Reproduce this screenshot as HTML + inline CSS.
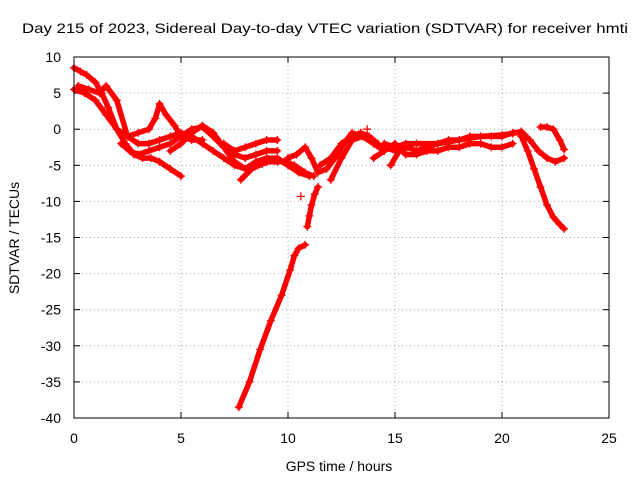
<!DOCTYPE html>
<html><head><meta charset="utf-8"><style>
body{margin:0;background:#fff}
svg{display:block;font-family:"Liberation Sans",sans-serif}
</style></head><body>
<svg id="chart" width="640" height="480" viewBox="0 0 640 480" xmlns="http://www.w3.org/2000/svg">
<rect width="640" height="480" fill="#fff"/>
<text x="325" y="33" font-size="14" text-anchor="middle" textLength="606" lengthAdjust="spacingAndGlyphs">Day 215 of 2023, Sidereal Day-to-day VTEC variation (SDTVAR) for receiver hmti</text>
<text x="339" y="471" font-size="14" text-anchor="middle">GPS time / hours</text>
<text transform="translate(19,238) rotate(-90)" font-size="14" text-anchor="middle">SDTVAR / TECUs</text>
<g id="grid"></g>
<g id="ticks"></g>
<g id="series"></g>
<rect x="74" y="57" width="535" height="361" fill="none" stroke="#000" stroke-width="1"/>
</svg>
<script>
const xTicks=[0,5,10,15,20,25];
const yTicks=[10,5,0,-5,-10,-15,-20,-25,-30,-35,-40];
const trackTimes=[
[7.7,8.2,8.7,9.2,9.7,10.1,10.3,10.5,10.8],
[10.9,11.0,11.1,11.25,11.4],
[0,0.3,0.6,1.0,1.3,1.6,2.0,2.4,2.8,3.2,3.6,4.0,4.5,5.0],
[0,0.5,1.0,1.5,2.0,2.5,3.0,3.5,4.0,4.5,5.0,5.5,6.0,6.5,7.0,7.5,8.0,8.5,9.0,9.5,10.0,10.5,11.0],
[0.2,0.7,1.2,1.5,2.0,2.5,3.0,3.5,3.8,4.0,4.3,4.7,5.0,5.5,6.0],
[2.2,2.6,3.0,3.5,4.0,4.5,5.0,5.5,6.0,6.5,7.0,7.5,8.0,8.5,9.0,9.5],
[4.5,5.0,5.5,6.0,6.5,7.0,7.5,8.0,8.5,9.0,9.5,10.0,10.5],
[7.0,7.5,8.0,8.5,9.0,9.5],
[7.8,8.3,8.8,9.3,9.8,10.3,10.8,11.2],
[10.0,10.4,10.8,11.1,11.4,11.8,12.2,12.6,13.0,13.5,14.0,14.5],
[11.5,12.0,12.5,13.0,13.4,13.8,14.2],
[12.0,12.5,13.0,13.5,14.0,14.5,15.0],
[14.5,15.0,15.5,16.0,17.0,18.0,19.0,20.0,20.5,20.9,21.3,21.7,22.1,22.5,22.9],
[20.9,21.2,21.5,21.8,22.1,22.4,22.7,22.9],
[21.8,22.1,22.4,22.7,22.9],
[14.0,14.5,15.0,15.5,16.0,16.5,17.0,17.5,18.0,18.5,19.0,19.5,20.0,20.5],
[14.8,15.2,15.6,16.0,16.5,17.0,17.5,18.0,18.5,19.0,19.5,20.0,20.5,20.9]
];
const trackValues=[
[-38.5,-35,-30.5,-26.5,-23,-19.5,-17.5,-16.5,-16],
[-13.5,-12,-10.5,-9,-8],
[8.5,8,7.5,6.5,5,3,0,-2,-3.5,-4,-4,-4.5,-5.5,-6.5],
[5.5,5,4,2,0,-1,-2,-2,-1.5,-1,-0.5,-1,-2,-3,-4,-5,-5.5,-5,-4.5,-4.5,-4.5,-6,-6.5],
[6,5.5,5,6,4,-1,-0.5,0,1.5,3.5,2,0.5,-1,-1.5,-1.5],
[-2,-3,-3.5,-3,-2.5,-2,-1,0,0.3,-1,-2.5,-3.5,-4,-3.5,-3,-3],
[-3,-2,-0.5,0.5,-0.5,-2.5,-4.5,-5.5,-4.5,-4,-4,-5,-6],
[-2,-3,-2.5,-2,-1.5,-1.5],
[-7,-5.5,-4.8,-4.3,-4.5,-5,-6,-6.5],
[-4,-3.5,-2.5,-4,-6,-5.5,-4,-2,-0.5,-1,-2,-3],
[-5,-4,-2,-1,-0.5,-1,-2],
[-7,-4,-1.5,-1,-2,-2.5,-3],
[-2,-2.5,-2,-2,-2,-1.5,-1,-0.8,-0.6,-0.3,-1.5,-3,-4,-4.5,-4],
[-1,-3,-5.5,-8,-10.5,-12.2,-13.2,-13.8],
[0.3,0.3,0,-1.5,-2.8],
[-4,-3,-2,-3.5,-3.5,-3,-3,-2.5,-2.5,-2,-2,-2.5,-2.5,-2],
[-5,-3,-2.5,-3,-2.5,-2,-1.5,-1.5,-1,-1,-1,-1,-0.5,-0.5]
];
const isolatedT=[10.6,13.7];
const isolatedV=[-9.3,0];
const NS='http://www.w3.org/2000/svg';
const X0=74,X1=609,Y0=418,Y1=57;
const sx=t=>X0+(t-0)/(25-0)*(X1-X0);
const sy=v=>Y0-(v-(-40))/(10-(-40))*(Y0-Y1);
function mk(tag,attrs,parent){const e=document.createElementNS(NS,tag);for(const k in attrs)e.setAttribute(k,attrs[k]);parent.appendChild(e);return e;}
const grid=document.getElementById('grid'),ticks=document.getElementById('ticks'),series=document.getElementById('series');
xTicks.forEach(t=>{
  const x=sx(t);
  if(t>0&&t<25){const g=mk('line',{x1:x,x2:x,y1:Y0,y2:Y1,stroke:'#a0a0a0','stroke-dasharray':'1,3'},grid);
  
  }
  mk('line',{x1:x,x2:x,y1:Y0,y2:Y0-6,stroke:'#000'},ticks);
  mk('line',{x1:x,x2:x,y1:Y1,y2:Y1+6,stroke:'#000'},ticks);
  const l=mk('text',{x:x,y:443,'font-size':14,'text-anchor':'middle'},ticks);
  l.textContent=t;
  
  
});
yTicks.forEach(v=>{
  const y=sy(v);
  if(v>-40&&v<10){const g=mk('line',{x1:X0,x2:X1,y1:y,y2:y,stroke:'#a0a0a0','stroke-dasharray':'1,3'},grid);
  
  }
  mk('line',{x1:X0,x2:X0+6,y1:y,y2:y,stroke:'#000'},ticks);
  mk('line',{x1:X1,x2:X1-6,y1:y,y2:y,stroke:'#000'},ticks);
  const l=mk('text',{x:61,y:y+5,'font-size':14,'text-anchor':'end'},ticks);
  l.textContent=v;
  
  
});
function plus(t,v){const x=sx(t),y=sy(v);
  mk('path',{d:`M${x-4},${y}h8M${x},${y-4}v8`,stroke:'#f00','stroke-width':1.3},series);}
trackTimes.forEach((ts,i)=>{
  const vs=trackValues[i];
  const p=mk('polyline',{points:ts.map((t,j)=>sx(t)+','+sy(vs[j])).join(' '),fill:'none',stroke:'#f00','stroke-width':5.5,'stroke-linejoin':'round','stroke-linecap':'round'},series);
  
  
  ts.forEach((t,j)=>plus(t,vs[j]));
});
isolatedT.forEach((t,i)=>plus(t,isolatedV[i]));
</script>
</body></html>
